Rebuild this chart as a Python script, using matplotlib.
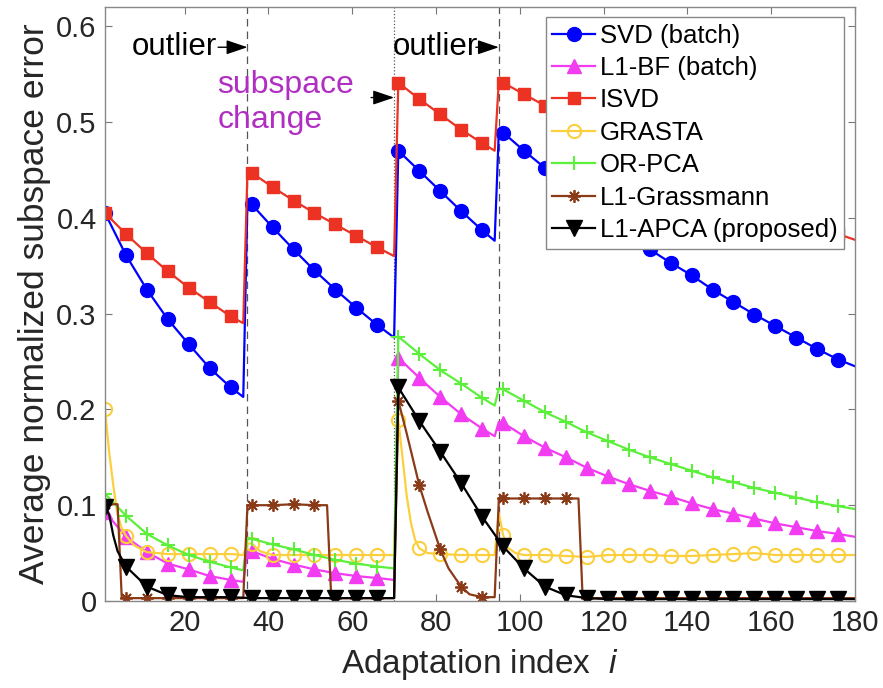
import numpy as np
import matplotlib
matplotlib.use("Agg")
import matplotlib.pyplot as plt
from matplotlib.lines import Line2D

plt.rcParams['font.family'] = ['Liberation Sans', 'DejaVu Sans']
plt.rcParams['mathtext.fontset'] = 'custom'
plt.rcParams['mathtext.it'] = 'Liberation Sans:italic'
plt.rcParams['mathtext.rm'] = 'Liberation Sans'

# ---- data (x = adaptation index) ----
svd_x = [1, 6, 11, 16, 21, 26, 31, 34,
         35, 36, 41, 46, 51, 56, 61, 66, 70,
         71, 76, 81, 86, 91, 94,
         95, 96, 101, 106, 111, 116, 121, 126, 131, 136, 141, 146, 151, 156, 161, 166, 171, 176, 180]
svd_y = [0.405, 0.361, 0.325, 0.294, 0.268, 0.243, 0.223, 0.213,
         0.418, 0.414, 0.390, 0.367, 0.345, 0.325, 0.306, 0.288, 0.275,
         0.470, 0.449, 0.428, 0.407, 0.387, 0.376,
         0.491, 0.489, 0.470, 0.452, 0.434, 0.416, 0.399, 0.383, 0.367, 0.353, 0.340, 0.325, 0.312, 0.299,
         0.287, 0.275, 0.263, 0.252, 0.245]

l1bf_x = svd_x
l1bf_y = [0.093, 0.067, 0.051, 0.039, 0.033, 0.026, 0.022, 0.020,
          0.053, 0.052, 0.044, 0.038, 0.033, 0.029, 0.026, 0.024, 0.022,
          0.254, 0.233, 0.213, 0.195, 0.180, 0.172,
          0.187, 0.186, 0.172, 0.160, 0.150, 0.139, 0.130, 0.122, 0.115, 0.109, 0.102, 0.096, 0.091, 0.086,
          0.081, 0.077, 0.073, 0.070, 0.067]

isvd_x = svd_x
isvd_y = [0.405, 0.383, 0.363, 0.344, 0.327, 0.312, 0.297, 0.290,
          0.449, 0.447, 0.432, 0.418, 0.405, 0.393, 0.381, 0.369, 0.360,
          0.541, 0.524, 0.508, 0.492, 0.478, 0.470,
          0.543, 0.541, 0.529, 0.517, 0.506, 0.495, 0.484, 0.473, 0.463, 0.453, 0.443, 0.434, 0.425, 0.416,
          0.407, 0.399, 0.391, 0.383, 0.377]

orpca_x = svd_x
orpca_y = [0.112, 0.089, 0.070, 0.058, 0.048, 0.041, 0.035, 0.032,
           0.066, 0.065, 0.059, 0.054, 0.048, 0.043, 0.039, 0.036, 0.034,
           0.276, 0.258, 0.241, 0.227, 0.212, 0.204,
           0.222, 0.221, 0.209, 0.197, 0.187, 0.176, 0.167, 0.158, 0.150, 0.143, 0.136, 0.129, 0.124, 0.118,
           0.113, 0.108, 0.103, 0.099, 0.096]

grasta_x = [1, 2, 3, 4, 5, 6, 8, 11, 16, 21, 26, 31, 34,
            35, 36, 38, 41, 46, 51, 56, 61, 66, 70,
            71, 72, 73, 74, 75, 76, 78, 81, 86, 91, 94,
            95, 96, 97, 99, 101, 106, 111, 116, 121, 126, 131, 136, 141, 146, 151, 156, 161, 166, 171, 176, 180]
grasta_y = [0.200, 0.155, 0.120, 0.090, 0.076, 0.068, 0.058, 0.051, 0.049, 0.049, 0.049, 0.049, 0.048,
            0.060, 0.060, 0.052, 0.048, 0.048, 0.048, 0.048, 0.048, 0.048, 0.048,
            0.189, 0.150, 0.110, 0.082, 0.064, 0.055, 0.050, 0.049, 0.048, 0.048, 0.048,
            0.092, 0.069, 0.056, 0.050, 0.048, 0.048, 0.047, 0.046, 0.048, 0.048, 0.048, 0.047, 0.047, 0.048,
            0.049, 0.050, 0.048, 0.048, 0.048, 0.048, 0.048]

grass_x = [1, 4, 5, 6, 11, 16, 21, 26, 31, 34,
           35, 36, 41, 46, 51, 54, 55, 56, 61, 66, 70,
           71, 73, 76, 78, 81, 83, 86, 88, 91, 94,
           95, 96, 101, 106, 111, 114, 115, 116, 121, 126, 131, 136, 141, 146, 151, 156, 161, 166, 171, 176, 180]
grass_y = [0.101, 0.101, 0.003, 0.003, 0.003, 0.003, 0.003, 0.003, 0.003, 0.003,
           0.100, 0.100, 0.100, 0.101, 0.100, 0.100, 0.003, 0.003, 0.003, 0.003, 0.003,
           0.209, 0.175, 0.121, 0.093, 0.054, 0.034, 0.015, 0.007, 0.004, 0.004,
           0.107, 0.107, 0.107, 0.107, 0.107, 0.107, 0.003, 0.003, 0.003, 0.003, 0.003, 0.003, 0.003, 0.003,
           0.003, 0.003, 0.003, 0.003, 0.003, 0.003, 0.003]

apca_x = [1, 2, 3, 4, 6, 11, 16, 21, 26, 31, 36, 41, 46, 51, 56, 61, 66, 70,
          71, 76, 81, 86, 91, 96, 101, 106, 111, 116, 121, 126, 131, 136, 141, 146, 151, 156, 161, 166,
          171, 176, 180]
apca_y = [0.098, 0.090, 0.068, 0.052, 0.036, 0.015, 0.006, 0.004, 0.004, 0.004, 0.003, 0.003, 0.003,
          0.003, 0.003, 0.003, 0.003, 0.003,
          0.223, 0.188, 0.156, 0.123, 0.088, 0.057, 0.034, 0.015, 0.006, 0.003, 0.002, 0.002, 0.002, 0.002,
          0.002, 0.002, 0.002, 0.002, 0.002, 0.002, 0.002, 0.002, 0.002]

labels = ["SVD (batch)", "L1-BF (batch)", "ISVD", "GRASTA", "OR-PCA", "L1-Grassmann", "L1-APCA (proposed)"]
x_ticks = [20, 40, 60, 80, 100, 120, 140, 160, 180]
y_ticks = [0, 0.1, 0.2, 0.3, 0.4, 0.5, 0.6]
y_tick_labels = ["0", "0.1", "0.2", "0.3", "0.4", "0.5", "0.6"]
change_points = [35, 70, 95]

# ---- styles ----
styles = [
    dict(color='#0000FF', marker='o', ms=10, mfc='#0000FF', mec='#0000FF', mew=1),
    dict(color='#F23CF2', marker='^', ms=9.5, mfc='#F23CF2', mec='#F23CF2', mew=1),
    dict(color='#EB3223', marker='s', ms=8, mfc='#EB3223', mec='#EB3223', mew=1),
    dict(color='#FCCF3E', marker='o', ms=9.5, mfc='none', mec='#FCCF3E', mew=1.5),
    dict(color='#5CF03C', marker='+', ms=10, mfc='none', mec='#5CF03C', mew=1.5),
    dict(color='#8B3A17', marker=(8, 2, 0), ms=9, mfc='none', mec='#8B3A17', mew=1.3),
    dict(color='#000000', marker='v', ms=11, mfc='#000000', mec='#000000', mew=1),
]
series = [(svd_x, svd_y), (l1bf_x, l1bf_y), (isvd_x, isvd_y), (grasta_x, grasta_y),
          (orpca_x, orpca_y), (grass_x, grass_y), (apca_x, apca_y)]

fig = plt.figure(figsize=(8.83, 6.88), dpi=100)
ax = fig.add_axes([105 / 883, 1 - 601 / 688, 750 / 883, 594 / 688])

for xv in change_points:
    ls = ':' if xv == 70 else (0, (6, 4))
    ax.axvline(xv, color='#555555', lw=0.9, ls=ls, zorder=1)

handles = []
for (xs, ys), st, lab in zip(series, styles, labels):
    xs = np.array(xs)
    mark = [i for i, v in enumerate(xs) if (v - 1) % 5 == 0]
    ax.plot(xs, ys, color=st['color'], lw=1.6, marker=st['marker'], ms=st['ms'],
            mfc=st['mfc'], mec=st['mec'], mew=st['mew'], markevery=mark, zorder=2)
    handles.append(Line2D([], [], color=st['color'], lw=1.6, marker=st['marker'], ms=st['ms'],
                          mfc=st['mfc'], mec=st['mec'], mew=st['mew'], label=lab))

ax.set_xlim(1, 180)
ax.set_ylim(0, 0.62)
ax.set_xticks(x_ticks)
ax.set_yticks(y_ticks)
ax.set_yticklabels(y_tick_labels)
ax.tick_params(direction='in', length=5, width=0.8, color='#777777', labelsize=21,
               labelcolor='#262626', top=True, right=True, pad=6)
for sp in ax.spines.values():
    sp.set_color('#888888')
    sp.set_linewidth(1.0)

ax.set_xlabel(r'Adaptation index  $i$', fontsize=24, color='#262626', labelpad=7)
ax.set_ylabel('Average normalized subspace error', fontsize=25.5, color='#262626', labelpad=4)

# annotations
arrow = dict(arrowstyle='-|>,head_length=0.65,head_width=0.22', color='k', lw=1.0,
             mutation_scale=20, shrinkA=0, shrinkB=0)
ax.text(7.3, 0.578, 'outlier', fontsize=22.5, ha='left', va='center')
ax.annotate('', xy=(35, 0.578), xytext=(28, 0.578), arrowprops=arrow)
ax.text(69.6, 0.578, 'outlier', fontsize=22.5, ha='left', va='center')
ax.annotate('', xy=(95, 0.578), xytext=(89.5, 0.578), arrowprops=arrow)
ax.text(27.8, 0.5205, 'subspace\nchange', fontsize=23, ha='left', va='center',
        color='#B02FC2', linespacing=1.2)
ax.annotate('', xy=(70, 0.5255), xytext=(64.5, 0.5255), arrowprops=arrow)

leg = ax.legend(handles=handles, loc='upper left', bbox_to_anchor=(0.588, 0.983),
                borderaxespad=0, fontsize=18.5, frameon=True, fancybox=False,
                edgecolor='#888888', framealpha=1, handlelength=1.65, handletextpad=0.2,
                labelspacing=0.33, borderpad=0.25)
leg.get_frame().set_linewidth(1.0)
leg.set_zorder(5)

fig.savefig('out.png', dpi=100)
